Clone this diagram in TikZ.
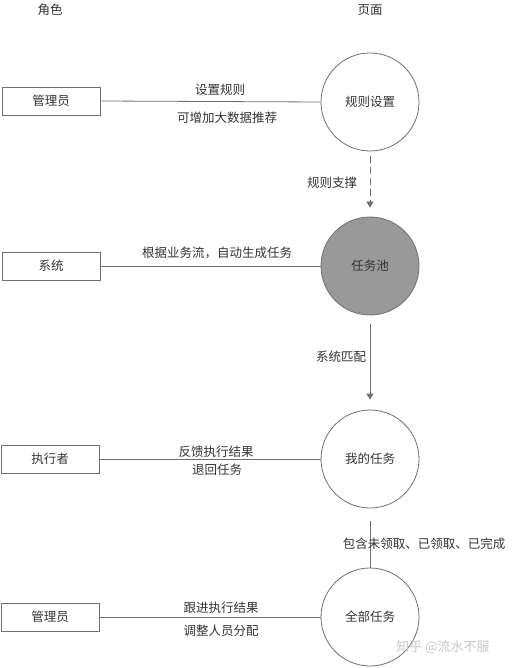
\documentclass[tikz,border=0pt]{standalone}
\usepackage{fontspec}
\setmainfont{Noto Sans CJK SC}
\usetikzlibrary{arrows.meta}
\definecolor{txt}{HTML}{333333}
\definecolor{ln}{HTML}{707070}
\definecolor{poolfill}{HTML}{999999}
\tikzset{
  rolebox/.style={draw=ln, line width=0.8pt, minimum width=98pt, minimum height=28pt, inner sep=0pt, text=txt, font=\fontsize{12.5}{14}\selectfont},
  pagecirc/.style={circle, draw=ln, line width=0.8pt, minimum size=98pt, inner sep=0pt, text=txt, font=\fontsize{12.5}{14}\selectfont},
  lbl/.style={text=txt, font=\fontsize{12.5}{14}\selectfont, inner sep=0pt},
  conn/.style={draw=ln, line width=0.8pt},
  arr/.style={conn, -{Triangle[length=6pt,width=7pt]}},
}
\begin{document}
\begin{tikzpicture}[x=1pt,y=-1pt]
\useasboundingbox (0,0) rectangle (512,668);
% headers
\node[lbl] (hrole) at (50,10) {角色};
\node[lbl] (hpage) at (370,10) {页面};
% roles
\node[rolebox] (r1) at (51,101) {管理员};
\node[rolebox] (r2) at (51,266) {系统};
\node[rolebox] (r3) at (50,459) {执行者};
\node[rolebox] (r4) at (50,617) {管理员};
% pages
\node[pagecirc] (p1) at (370,102) {规则设置};
\node[pagecirc, fill=poolfill] (p2) at (370,266) {任务池};
\node[pagecirc] (p3) at (370,459) {我的任务};
\node[pagecirc] (p4) at (370,617) {全部任务};
% horizontal connectors
\draw[conn] (r1.east) -- (p1.west);
\draw[conn] (r2.east) -- (p2.west);
\draw[conn] (r3.east) -- (p3.west);
\draw[conn] (r4.east) -- (p4.west);
% vertical connectors
\draw[arr, dash pattern=on 7pt off 4pt, shorten <=5pt, shorten >=9pt] (p1.south) -- (p2.north);
\draw[arr, shorten <=9pt, shorten >=10pt] (p2.south) -- (p3.north);
\draw[conn, shorten <=13pt] (p3.south) -- (p4.north);
% labels
\node[lbl] (l1a) at (220,90) {设置规则};
\node[lbl] (l1b) at (227,118) {可增加大数据推荐};
\node[lbl] (l2) at (217,253) {根据业务流，自动生成任务};
\node[lbl] (l3a) at (216,452) {反馈执行结果};
\node[lbl] (l3b) at (217,470) {退回任务};
\node[lbl] (l4a) at (221,608) {跟进执行结果};
\node[lbl] (l4b) at (221,631) {调整人员分配};
\node[lbl] (v1) at (332,183) {规则支撑};
\node[lbl] (v2) at (341,357) {系统匹配};
\node[lbl] (v3) at (424,544) {包含未领取、已领取、已完成};
% watermark
\node[text=black!22, font=\fontsize{13}{15}\selectfont, inner sep=0pt] (wm) at (443,647) {知乎 @流水不服};
\end{tikzpicture}
\end{document}
